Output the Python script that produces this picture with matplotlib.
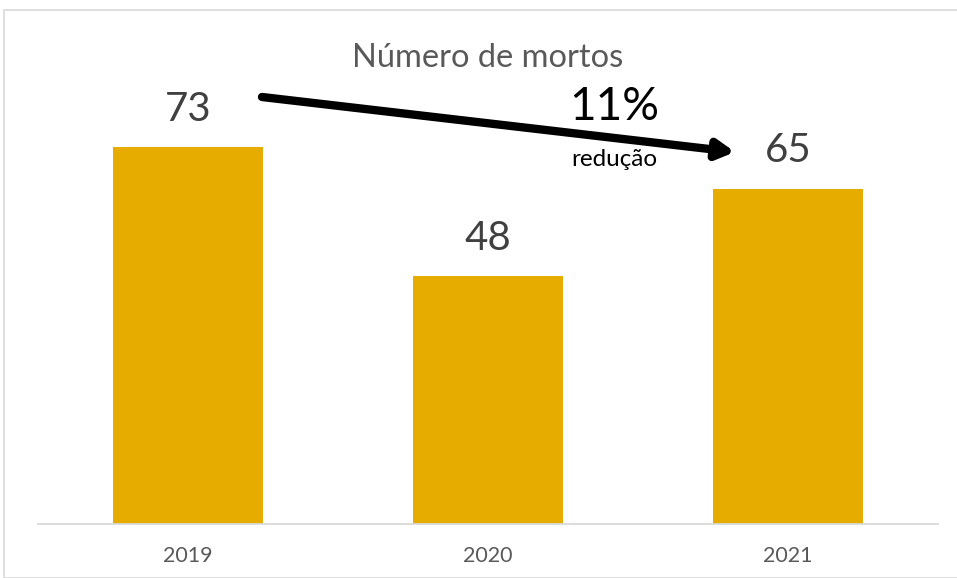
import matplotlib.pyplot as plt
from matplotlib.patches import Rectangle

years = ['2019', '2020', '2021']
mortos = [73, 48, 65]
title = 'Número de mortos'
change_text = '11%'
change_label = 'redução'

plt.rcParams['font.family'] = ['Lato', 'DejaVu Sans']

fig = plt.figure(figsize=(9.57, 5.78), dpi=100)
ax = fig.add_axes([38 / 957, 54 / 578, 900 / 957, 412.8 / 578])

x = range(len(years))
ax.bar(x, mortos, width=0.5, color='#E6AC00')
for xi, v in zip(x, mortos):
    ax.text(xi, v + 3.8, str(v), ha='center', va='bottom', fontsize=29, color='#404040')

ax.set_xlim(-0.5, 2.5)
ax.set_ylim(0, 80)
ax.set_xticks(list(x))
ax.set_xticklabels(years, fontsize=15.5, color='#595959')
ax.tick_params(axis='x', length=0, pad=16)
ax.set_yticks([])
for s in ['top', 'right', 'left']:
    ax.spines[s].set_visible(False)
ax.spines['bottom'].set_color('#D9D9D9')
ax.spines['bottom'].set_linewidth(1.3)

fig.text(488 / 957, 1 - 58 / 578, title, ha='center', va='center', fontsize=23.5, color='#595959')

# trend arrow
ax.annotate('', xy=(735 / 957, 1 - 152 / 578), xytext=(262 / 957, 1 - 97 / 578),
            xycoords='figure fraction', textcoords='figure fraction',
            arrowprops=dict(arrowstyle='-|>,head_length=1.0,head_width=0.55', lw=6, color='black',
                            shrinkA=0, shrinkB=0))
fig.text(614 / 957, 1 - 107 / 578, change_text, ha='center', va='center', fontsize=33, color='black')
fig.text(614 / 957, 1 - 160 / 578, change_label, ha='center', va='center', fontsize=17.5, color='black')

fig.patches.append(Rectangle((4 / 957, 0), 1, 1 - 10 / 578, transform=fig.transFigure,
                             fill=False, edgecolor='#D9D9D9', lw=1.2))

fig.savefig('out.png', dpi=100)
